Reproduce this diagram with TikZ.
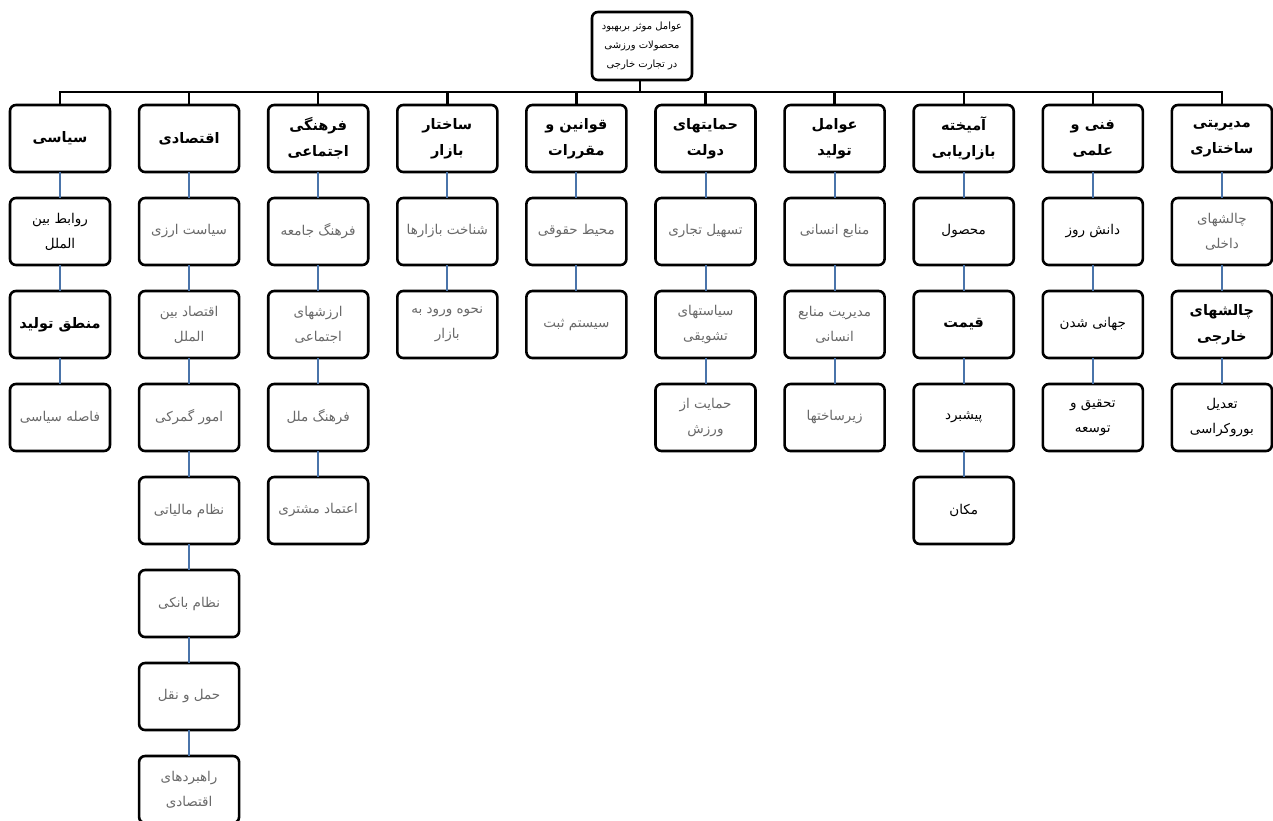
\documentclass[tikz,border=0pt]{standalone}
\usepackage{fontspec}
\usepackage{tikz}
\usetikzlibrary{positioning}
\newfontfamily\farsi[Script=Arabic]{DejaVu Sans}
\TeXXeTstate=1
\newcommand{\fa}[1]{\beginR #1\endR}
\definecolor{linkblue}{RGB}{74,116,170}
\definecolor{fadegray}{RGB}{105,105,105}

\begin{document}
\begin{tikzpicture}[x=1pt,y=-1pt,
    box/.style={draw=black,line width=2.6pt,rounded corners=6pt,fill=white,outer sep=0pt,
      minimum width=100pt,minimum height=67pt,inner sep=2pt,align=center},
    head/.style={box,font=\farsi\bfseries\fontsize{14.5}{26}\selectfont},
    dark/.style={box,font=\farsi\fontsize{13.5}{25}\selectfont,text=black},
    faint/.style={box,font=\farsi\fontsize{13.5}{25}\selectfont,text=fadegray},
    bar/.style={line width=2.4pt,black},
    link/.style={line width=2pt,linkblue}]
	  \useasboundingbox (0,0) rectangle (1273,820);
	  % Root
	  \node[box,minimum height=68pt,font=\farsi\fontsize{10}{19}\selectfont] (root) at (642,46)
	      {\fa{عوامل موثر بربهبود}\\\fa{محصولات ورزشی}\\\fa{در تجارت خارجی}};
	  % Main factors
	  \node[head] (pol) at (60,138.5) {\fa{سیاسی}};
	  \node[head,right=29.1pt of pol] (eco) {\fa{اقتصادی}};
	  \node[head,right=29.1pt of eco] (cul) {\fa{فرهنگی}\\\fa{اجتماعی}};
	  \node[head,right=29.1pt of cul] (mkt) {\fa{ساختار}\\\fa{بازار}};
	  \node[head,right=29.1pt of mkt] (law) {\fa{قوانین و}\\\fa{مقررات}};
	  \node[head,right=29.1pt of law] (gov) {\fa{حمایتهای}\\\fa{دولت}};
	  \node[head,right=29.1pt of gov] (prd) {\fa{عوامل}\\\fa{تولید}};
	  \node[head,right=29.1pt of prd] (mix) {\fa{آمیخته}\\\fa{بازاریابی}};
	  \node[head,right=29.1pt of mix] (sci) {\fa{فنی و}\\\fa{علمی}};
	  \node[head,right=29.1pt of sci] (mgt) {\fa{مدیریتی}\\\fa{ساختاری}};
	  % Bus from root to main factors
	  \coordinate (bus) at (640,92);
	  \draw[bar] (root.south -| bus) -- (bus);
	  \foreach \h in {pol,eco,cul,mkt,law,gov,prd,mix,sci,mgt}
	      \draw[bar] (\h.north) |- (bus);
	  % Political
	  \node[dark,below=26pt of pol] (pol1) {\fa{روابط بین}\\\fa{الملل}};
	  \node[head,below=26pt of pol1] (pol2) {\fa{منطق تولید}};
	  \node[faint,below=26pt of pol2] (pol3) {\fa{فاصله سیاسی}};
	  % Economic
	  \node[faint,below=26pt of eco] (eco1) {\fa{سیاست ارزی}};
	  \node[faint,below=26pt of eco1] (eco2) {\fa{اقتصاد بین}\\\fa{الملل}};
	  \node[faint,below=26pt of eco2] (eco3) {\fa{امور گمرکی}};
	  \node[faint,below=26pt of eco3] (eco4) {\fa{نظام مالیاتی}};
	  \node[faint,below=26pt of eco4] (eco5) {\fa{نظام بانکی}};
	  \node[faint,below=26pt of eco5] (eco6) {\fa{حمل و نقل}};
	  \node[faint,below=26pt of eco6] (eco7) {\fa{راهبردهای}\\\fa{اقتصادی}};
	  % Cultural
	  \node[faint,below=26pt of cul] (cul1) {\fa{فرهنگ جامعه}};
	  \node[faint,below=26pt of cul1] (cul2) {\fa{ارزشهای}\\\fa{اجتماعی}};
	  \node[faint,below=26pt of cul2] (cul3) {\fa{فرهنگ ملل}};
	  \node[faint,below=26pt of cul3] (cul4) {\fa{اعتماد مشتری}};
	  % Market structure
	  \node[faint,below=26pt of mkt] (mkt1) {\fa{شناخت بازارها}};
	  \node[faint,below=26pt of mkt1] (mkt2) {\fa{نحوه ورود به}\\\fa{بازار}};
	  % Laws
	  \node[faint,below=26pt of law] (law1) {\fa{محیط حقوقی}};
	  \node[faint,below=26pt of law1] (law2) {\fa{سیستم ثبت}};
	  % Government support
	  \node[faint,below=26pt of gov] (gov1) {\fa{تسهیل تجاری}};
	  \node[faint,below=26pt of gov1] (gov2) {\fa{سیاستهای}\\\fa{تشویقی}};
	  \node[faint,below=26pt of gov2] (gov3) {\fa{حمایت از}\\\fa{ورزش}};
	  % Production
	  \node[faint,below=26pt of prd] (prd1) {\fa{منابع انسانی}};
	  \node[faint,below=26pt of prd1] (prd2) {\fa{مدیریت منابع}\\\fa{انسانی}};
	  \node[faint,below=26pt of prd2] (prd3) {\fa{زیرساختها}};
	  % Marketing mix
	  \node[dark,below=26pt of mix] (mix1) {\fa{محصول}};
	  \node[head,below=26pt of mix1] (mix2) {\fa{قیمت}};
	  \node[dark,below=26pt of mix2] (mix3) {\fa{پیشبرد}};
	  \node[dark,below=26pt of mix3] (mix4) {\fa{مکان}};
	  % Technical
	  \node[dark,below=26pt of sci] (sci1) {\fa{دانش روز}};
	  \node[dark,below=26pt of sci1] (sci2) {\fa{جهانی شدن}};
	  \node[dark,below=26pt of sci2] (sci3) {\fa{تحقیق و}\\\fa{توسعه}};
	  % Management
	  \node[faint,below=26pt of mgt] (mgt1) {\fa{چالشهای}\\\fa{داخلی}};
	  \node[head,below=26pt of mgt1] (mgt2) {\fa{چالشهای}\\\fa{خارجی}};
	  \node[dark,below=26pt of mgt2] (mgt3) {\fa{تعدیل}\\\fa{بوروکراسی}};
	  % Links inside columns
	  \draw[link] (pol) -- (pol1) (pol1) -- (pol2) (pol2) -- (pol3);
	  \draw[link] (eco) -- (eco1) (eco1) -- (eco2) (eco2) -- (eco3) (eco3) -- (eco4)
	      (eco4) -- (eco5) (eco5) -- (eco6) (eco6) -- (eco7);
	  \draw[link] (cul) -- (cul1) (cul1) -- (cul2) (cul2) -- (cul3) (cul3) -- (cul4);
	  \draw[link] (mkt) -- (mkt1) (mkt1) -- (mkt2);
	  \draw[link] (law) -- (law1) (law1) -- (law2);
	  \draw[link] (gov) -- (gov1) (gov1) -- (gov2) (gov2) -- (gov3);
	  \draw[link] (prd) -- (prd1) (prd1) -- (prd2) (prd2) -- (prd3);
	  \draw[link] (mix) -- (mix1) (mix1) -- (mix2) (mix2) -- (mix3) (mix3) -- (mix4);
	  \draw[link] (sci) -- (sci1) (sci1) -- (sci2) (sci2) -- (sci3);
	  \draw[link] (mgt) -- (mgt1) (mgt1) -- (mgt2) (mgt2) -- (mgt3);
\end{tikzpicture}
\end{document}
